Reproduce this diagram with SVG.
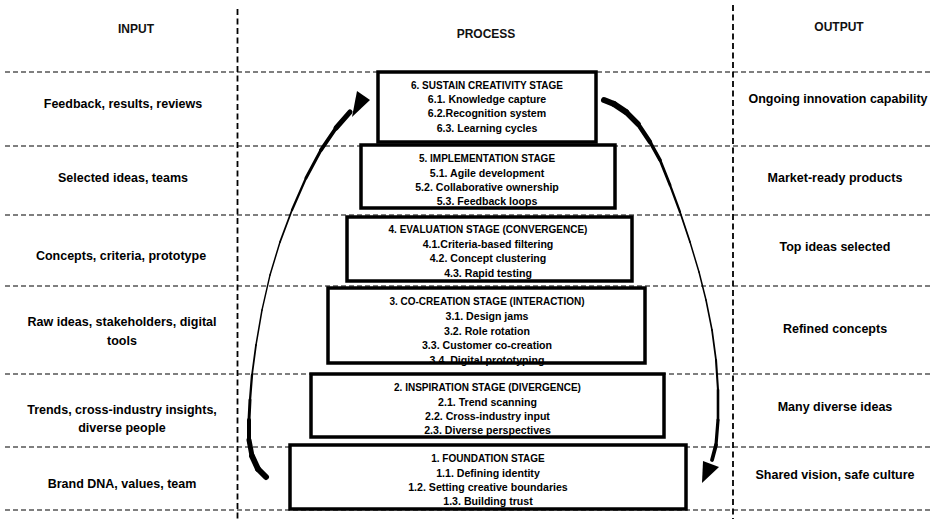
<svg xmlns="http://www.w3.org/2000/svg" width="935" height="519" viewBox="0 0 935 519">
<style>
.hd{font-family:"Liberation Sans",Arial,sans-serif;font-size:12px;font-weight:bold;fill:#111;text-anchor:middle}
.lb{font-family:"Liberation Sans",Arial,sans-serif;font-size:12.5px;font-weight:bold;fill:#000;text-anchor:middle}
.tt{font-family:"Liberation Sans",Arial,sans-serif;font-size:10px;font-weight:bold;fill:#000;text-anchor:middle}
.it{font-family:"Liberation Sans",Arial,sans-serif;font-size:10.6px;font-weight:bold;fill:#000;text-anchor:middle}
.hl{stroke:#000;stroke-width:1.2;stroke-dasharray:5 3;fill:none}
.vl{stroke:#000;stroke-width:1.8;stroke-dasharray:6 3.5;fill:none}
.bf{fill:#fff;stroke:none}
.bs{fill:none;stroke:#000;stroke-width:3.5}
.ar{fill:none;stroke:#000;stroke-linecap:round;stroke-linejoin:round}
.ah{fill:#000;stroke:none}
</style>
<rect width="935" height="519" fill="#fff"/>
<g id="grid">
<line class="hl" x1="5" y1="72" x2="931" y2="72"/>
<line class="hl" x1="5" y1="146" x2="931" y2="146"/>
<line class="hl" x1="5" y1="215" x2="931" y2="215"/>
<line class="hl" x1="5" y1="286" x2="931" y2="286"/>
<line class="hl" x1="5" y1="374" x2="931" y2="374"/>
<line class="hl" x1="5" y1="447" x2="931" y2="447"/>
<line class="hl" x1="5" y1="510" x2="931" y2="510"/>
<line class="vl" x1="237.5" y1="9" x2="237.5" y2="519"/>
<line class="vl" x1="733" y1="5" x2="733" y2="519"/>
</g>
<g id="headers">
<text class="hd" x="136" y="33">INPUT</text>
<text class="hd" x="486" y="38">PROCESS</text>
<text class="hd" x="839" y="31">OUTPUT</text>
</g>
<g id="inputs">
<text class="lb" x="123" y="108">Feedback, results, reviews</text>
<text class="lb" x="123" y="182">Selected ideas, teams</text>
<text class="lb" x="121" y="260">Concepts, criteria, prototype</text>
<text class="lb" x="122" y="326">Raw ideas, stakeholders, digital</text>
<text class="lb" x="122" y="345">tools</text>
<text class="lb" x="122" y="414">Trends, cross-industry insights,</text>
<text class="lb" x="122" y="432">diverse people</text>
<text class="lb" x="122" y="488">Brand DNA, values, team</text>
</g>
<g id="outputs">
<text class="lb" x="838" y="103">Ongoing innovation capability</text>
<text class="lb" x="835" y="182">Market-ready products</text>
<text class="lb" x="835" y="251">Top ideas selected</text>
<text class="lb" x="835" y="333">Refined concepts</text>
<text class="lb" x="835" y="411">Many diverse ideas</text>
<text class="lb" x="835" y="479">Shared vision, safe culture</text>
</g>
<g id="stage6">
<rect class="bf" x="378" y="72" width="218" height="70"/>
<text class="tt" x="487" y="89">6. SUSTAIN  CREATIVITY STAGE</text>
<text class="it" x="487" y="103">6.1. Knowledge capture</text>
<text class="it" x="487" y="117">6.2.Recognition system</text>
<text class="it" x="487" y="132">6.3. Learning cycles</text>
<rect class="bs" x="378" y="72" width="218" height="70"/>
</g>
<g id="stage5">
<rect class="bf" x="361" y="145" width="254" height="63"/>
<text class="tt" x="487" y="162">5. IMPLEMENTATION STAGE</text>
<text class="it" x="487" y="177">5.1. Agile development</text>
<text class="it" x="487" y="191">5.2. Collaborative ownership</text>
<text class="it" x="487" y="205">5.3. Feedback loops</text>
<rect class="bs" x="361" y="145" width="254" height="63"/>
</g>
<g id="stage4">
<rect class="bf" x="347" y="217" width="285" height="64"/>
<text class="tt" x="488" y="233">4. EVALUATION STAGE (CONVERGENCE)</text>
<text class="it" x="488" y="248">4.1.Criteria-based filtering</text>
<text class="it" x="488" y="262">4.2. Concept clustering</text>
<text class="it" x="488" y="277">4.3. Rapid testing</text>
<rect class="bs" x="347" y="217" width="285" height="64"/>
</g>
<g id="stage3">
<rect class="bf" x="328" y="288" width="317" height="75"/>
<text class="tt" x="487" y="304.5">3. CO-CREATION STAGE (INTERACTION)</text>
<text class="it" x="487" y="320">3.1. Design jams</text>
<text class="it" x="487" y="334.5">3.2. Role rotation</text>
<text class="it" x="487" y="349">3.3. Customer co-creation</text>
<text class="it" x="487" y="364">3.4. Digital prototyping</text>
<rect class="bs" x="328" y="288" width="317" height="75"/>
</g>
<g id="stage2">
<rect class="bf" x="311" y="374" width="353" height="63"/>
<text class="tt" x="487.5" y="391">2. INSPIRATION STAGE (DIVERGENCE)</text>
<text class="it" x="487.5" y="405.5">2.1. Trend scanning</text>
<text class="it" x="487.5" y="420">2.2. Cross-industry input</text>
<text class="it" x="487.5" y="434">2.3. Diverse perspectives</text>
<rect class="bs" x="311" y="374" width="353" height="63"/>
</g>
<g id="stage1">
<rect class="bf" x="290" y="445" width="396" height="64"/>
<text class="tt" x="488" y="462">1. FOUNDATION STAGE</text>
<text class="it" x="488" y="476.5">1.1. Defining identity</text>
<text class="it" x="488" y="491">1.2. Setting creative boundaries</text>
<text class="it" x="488" y="505">1.3.  Building trust</text>
<rect class="bs" x="290" y="445" width="396" height="64"/>
</g>
<g id="connectors">
<g id="arrow-left">
<path class="ar" stroke-width="6" d="M266 477 L258 469"/>
<path class="ar" stroke-width="5.8" d="M258 469 L252 456"/>
<path class="ar" stroke-width="5" d="M252 456 L249 440"/>
<path class="ar" stroke-width="4" d="M249 440 L249 420"/>
<path class="ar" stroke-width="3" d="M249 420 L250 400"/>
<path class="ar" stroke-width="2.3" d="M250 400 L252 375"/>
<path class="ar" stroke-width="1.8" d="M252 375 L256 345"/>
<path class="ar" stroke-width="1.5" stroke="#333" d="M256 345 L262 310"/>
<path class="ar" stroke-width="1.4" stroke="#444" d="M262 310 L270 275"/>
<path class="ar" stroke-width="1.5" stroke="#333" d="M270 275 L280 242"/>
<path class="ar" stroke-width="1.8" d="M280 242 L292 210"/>
<path class="ar" stroke-width="2.3" d="M292 210 L306 178"/>
<path class="ar" stroke-width="3" d="M306 178 L321 150"/>
<path class="ar" stroke-width="3.9" d="M321 150 L336 128"/>
<path class="ar" stroke-width="5" d="M336 128 L350 112"/>
<polygon class="ah" points="357,91 370,100 352,117"/>
</g>
<g id="arrow-right">
<path class="ar" stroke-width="6" d="M604 100 L614 104"/>
<path class="ar" stroke-width="6.3" d="M614 104 L626 112"/>
<path class="ar" stroke-width="5.5" d="M626 112 L638 124"/>
<path class="ar" stroke-width="4.5" d="M638 124 L650 142"/>
<path class="ar" stroke-width="3.6" d="M650 142 L660 160"/>
<path class="ar" stroke-width="2.8" d="M660 160 L670 185"/>
<path class="ar" stroke-width="2.2" d="M670 185 L680 212"/>
<path class="ar" stroke-width="1.8" d="M680 212 L690 242"/>
<path class="ar" stroke-width="1.5" stroke="#333" d="M690 242 L699 272"/>
<path class="ar" stroke-width="1.5" stroke="#333" d="M699 272 L706 300"/>
<path class="ar" stroke-width="1.6" d="M706 300 L712 330"/>
<path class="ar" stroke-width="1.8" d="M712 330 L716 360"/>
<path class="ar" stroke-width="2.1" d="M716 360 L718 390"/>
<path class="ar" stroke-width="2.6" d="M718 390 L718 420"/>
<path class="ar" stroke-width="3.2" d="M718 420 L716 445"/>
<path class="ar" stroke-width="3.8" d="M716 445 L712 460"/>
<polygon class="ah" points="703,461 719,467 702,483"/>
</g>
</g>
</svg>
